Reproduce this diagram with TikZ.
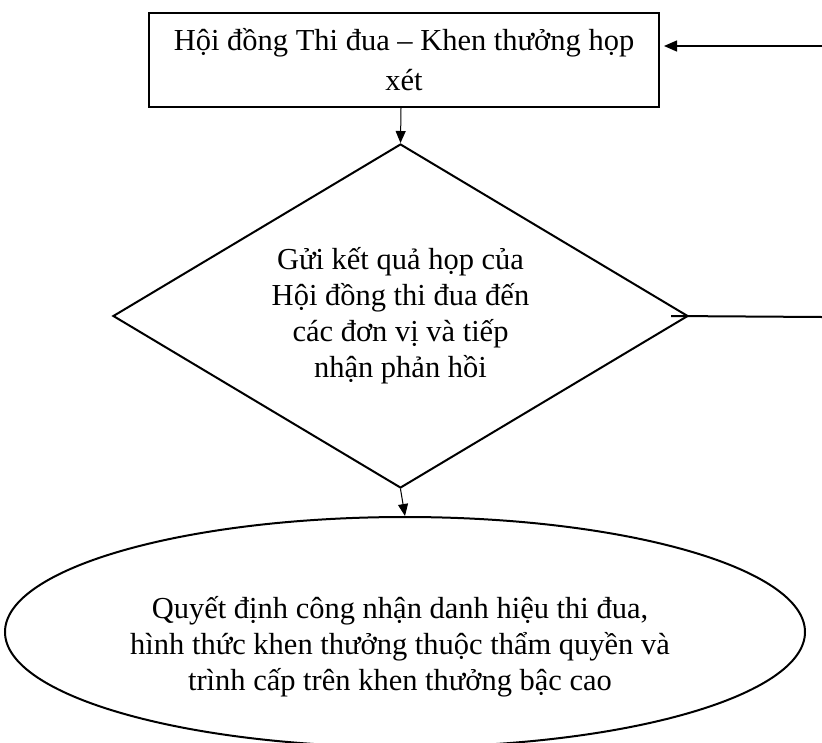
\documentclass[tikz,border=0pt]{standalone}
\usepackage{fontspec}
\setmainfont{Liberation Serif}
\usetikzlibrary{shapes.geometric,arrows.meta}
\begin{document}
\begin{tikzpicture}[x=1pt,y=-1pt,
  txt/.style={font=\fontsize{30.5}{36}\selectfont,align=center},
  boxnode/.style={txt,draw,line width=2pt,minimum width=510pt,minimum height=94pt,inner sep=0pt},
  decision/.style={txt,draw,diamond,aspect=1.672,line width=2pt,minimum width=575pt,minimum height=344pt,inner sep=0pt},
  outcome/.style={draw,ellipse,line width=2pt,minimum width=800pt,minimum height=230pt,inner sep=0pt},
  flow/.style={line width=1pt,-{Triangle[length=12pt,width=10pt]}},
  backflow/.style={line width=1.3pt,-{Triangle[length=13pt,width=11pt]}},
  outline/.style={line width=2pt}
]
\useasboundingbox (0,0) rectangle (822,742);
\fill[white] (0,0) rectangle (822,742);

% process steps
\node[boxnode] (council) at (404,60) {Hội đồng Thi đua – Khen thưởng họp\\[4pt]xét};
\node[decision] (send) at (400.5,316) {Gửi kết quả họp của\\Hội đồng thi đua đến\\các đơn vị và tiếp\\nhận phản hồi};
\node[outcome] (decide) at (405,632) {};
\node[txt] (decideText) at (400,647) {Quyết định công nhận danh hiệu thi đua,\\hình thức khen thưởng thuộc thẩm quyền và\\trình cấp trên khen thưởng bậc cao};

% feedback loop ends at the page edge
\coordinate (edgeLow) at (822,317);
\coordinate (edgeHigh) at (822,46);

% connectors
\draw[flow] ([xshift=-3pt]council.south) -- (send.north);
\draw[flow] (send.south) -- (decide.north);
\draw[outline] ([xshift=-18pt]send.east) -- (edgeLow);
\draw[backflow] (edgeHigh) -- ([xshift=4pt]council.east |- edgeHigh);
\end{tikzpicture}
\end{document}
